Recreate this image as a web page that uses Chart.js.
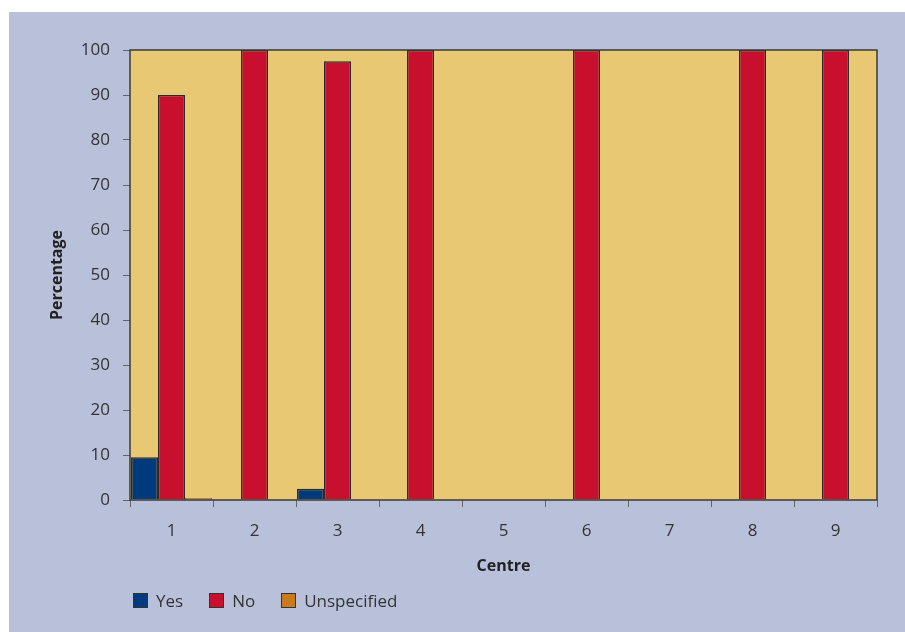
<!DOCTYPE html>
<html>
<head>
<meta charset="utf-8">
<script src="https://cdn.jsdelivr.net/npm/chart.js@4/dist/chart.umd.min.js"></script>
<style>
  html, body { margin: 0; padding: 0; background: #ffffff; }
  #panel {
    position: absolute; left: 9px; top: 12px; width: 896px; height: 620px;
    background: #B9C1DA;
  }
  #panel canvas { position: absolute; left: 0; top: 0; }
  #legend {
    position: absolute; left: 124px; top: 577px;
    display: flex; align-items: center; gap: 26px;
    font-family: "Open Sans", sans-serif; font-size: 17px; color: #333333;
  }
  .item { display: flex; align-items: center; }
  .swatch { width: 13px; height: 13px; border: 1px solid #333333; margin-right: 8px; }
</style>
</head>
<body>
<div id="panel">
  <canvas id="chart" width="896" height="620"></canvas>
  <div id="legend"></div>
</div>
<script>
// Share of responses per centre
const centres = ['1', '2', '3', '4', '5', '6', '7', '8', '9'];
const yesValues = [9.5, null, 2.5, null, null, null, null, null, null];
const noValues = [90, 100, 97.5, 100, null, 100, null, 100, 100];
const unspecifiedValues = [0.4, null, null, null, null, null, null, null, null];
const seriesNames = ['Yes', 'No', 'Unspecified'];
const yTicks = [0, 10, 20, 30, 40, 50, 60, 70, 80, 90, 100];

const seriesColors = ['#003A7D', '#C8102E', '#C97A1A'];
const FONT = '"Open Sans", sans-serif';

// Fill the plotting area and frame it
const plotFrame = {
  id: 'plotFrame',
  beforeDraw(chart) {
    const { ctx, chartArea: a } = chart;
    ctx.save();
    ctx.fillStyle = '#E9C873';
    ctx.fillRect(a.left, a.top, a.right - a.left, a.bottom - a.top);
    ctx.restore();
  },
  afterDatasetsDraw(chart) {
    const { ctx, chartArea: a } = chart;
    ctx.save();
    ctx.strokeStyle = '#3a3a3a';
    ctx.lineWidth = 1.5;
    ctx.strokeRect(a.left, a.top, a.right - a.left, a.bottom - a.top);
    ctx.restore();
  }
};

const chart = new Chart(document.getElementById('chart'), {
  type: 'bar',
  data: {
    labels: centres,
    datasets: [yesValues, noValues, unspecifiedValues].map((vals, i) => ({
      label: seriesNames[i],
      data: vals,
      backgroundColor: seriesColors[i],
      borderColor: '#2a2a2a',
      borderWidth: 1.5,
      categoryPercentage: 0.976,
      barPercentage: 1.0
    }))
  },
  options: {
    responsive: false,
    animation: false,
    layout: { padding: { left: 0, top: 38, right: 28, bottom: 0 } },
    plugins: { legend: { display: false }, tooltip: { enabled: false } },
    scales: {
      x: {
        grid: { display: true, drawOnChartArea: false, drawTicks: true, tickLength: 7, color: '#666666', offset: true },
        border: { display: false },
        ticks: { color: '#333333', font: { family: FONT, size: 17 }, padding: 14, maxRotation: 0 },
        title: { display: true, text: 'Centre', color: '#222222', font: { family: FONT, size: 16, weight: 'bold' }, padding: { top: 0, bottom: 56 } },
        afterFit(scale) { scale.height = 132; }
      },
      y: {
        min: 0, max: 100,
        afterBuildTicks(scale) { scale.ticks = yTicks.map(v => ({ value: v })); },
        grid: { display: true, drawOnChartArea: false, drawTicks: true, tickLength: 7, color: '#666666' },
        border: { display: false },
        ticks: { color: '#333333', font: { family: FONT, size: 17 }, padding: 13 },
        title: { display: true, text: 'Percentage', color: '#222222', font: { family: FONT, size: 16, weight: 'bold' }, padding: { top: 39, bottom: 0 } },
        afterFit(scale) { scale.width = 121; }
      }
    }
  },
  plugins: [plotFrame]
});

// Legend built from the chart's datasets
const legendEl = document.getElementById('legend');
chart.data.datasets.forEach(ds => {
  const item = document.createElement('div');
  item.className = 'item';
  const sw = document.createElement('span');
  sw.className = 'swatch';
  sw.style.background = ds.backgroundColor;
  const txt = document.createElement('span');
  txt.textContent = ds.label;
  item.appendChild(sw);
  item.appendChild(txt);
  legendEl.appendChild(item);
});
</script>
</body>
</html>
